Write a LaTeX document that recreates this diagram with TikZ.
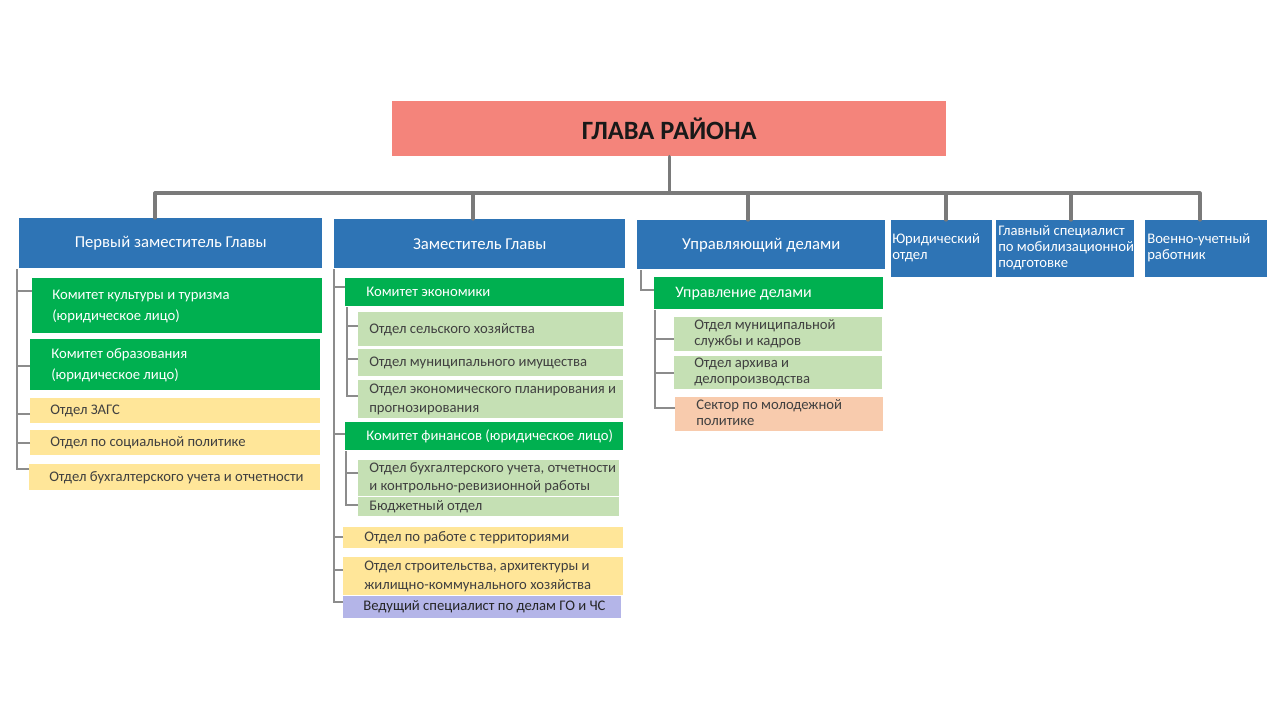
\documentclass[tikz,border=0pt]{standalone}
\usepackage{fontspec}
\setmainfont{Carlito}
\usetikzlibrary{calc}
\definecolor{salmon}{HTML}{F4847B}
\definecolor{hdrblue}{HTML}{2E74B5}
\definecolor{dgreen}{HTML}{00B050}
\definecolor{lgreen}{HTML}{C5E0B4}
\definecolor{lyellow}{HTML}{FFE699}
\definecolor{lpeach}{HTML}{F8CBAD}
\definecolor{lavender}{HTML}{B4B5E8}
\definecolor{txtgray}{HTML}{404040}
\definecolor{busgray}{HTML}{7A7A7A}
\definecolor{brgray}{HTML}{8C8C8C}
% left-aligned box: style, name, x1, y1, x2, y2, inset, text
\newcommand\Bx[8]{%
 \pgfmathsetmacro\bxw{(#5-#3)*0.75}%
 \pgfmathsetmacro\bxh{(#6-#4)*0.75}%
 \pgfmathsetmacro\bxi{#7*0.75}%
 \node[#1, anchor=north west, minimum width=\bxw pt, minimum height=\bxh pt,
   inner xsep=0pt, inner ysep=0pt] (#2) at (#3,#4)
   {\makebox[\bxw pt][l]{\hspace*{\bxi pt}\begin{tabular}{@{}l@{}}#8\end{tabular}}};}
% centred box: style, name, x1, y1, x2, y2, text
\newcommand\Bc[7]{%
 \pgfmathsetmacro\bxw{(#5-#3)*0.75}%
 \pgfmathsetmacro\bxh{(#6-#4)*0.75}%
 \node[#1, anchor=north west, minimum width=\bxw pt, minimum height=\bxh pt,
   inner xsep=0pt, inner ysep=0pt] (#2) at (#3,#4)
   {\makebox[\bxw pt][c]{#7}};}
\tikzset{
 titlebox/.style={fill=salmon, text=black!90, font=\fontsize{19.8}{22}\selectfont\bfseries},
 hdrbox/.style={fill=hdrblue, text=white, font=\fontsize{12.5}{14}\selectfont},
 smallhdr/.style={fill=hdrblue, text=white, font=\fontsize{11}{12}\selectfont},
 greenbox/.style={fill=dgreen, text=white, font=\fontsize{11}{15.75}\selectfont},
 lgbox/.style={fill=lgreen, text=txtgray, font=\fontsize{11}{14.25}\selectfont},
 ybox/.style={fill=lyellow, text=txtgray, font=\fontsize{11}{14.25}\selectfont},
 pbox/.style={fill=lpeach, text=txtgray, font=\fontsize{11}{12}\selectfont},
 vbox/.style={fill=lavender, text=black!85, font=\fontsize{11}{12}\selectfont},
 bus/.style={draw=busgray, line width=2.4pt, line cap=round, line join=round},
 br/.style={draw=brgray, line width=0.8pt},
}
\begin{document}
\begin{tikzpicture}[x=0.75pt,y=-0.75pt]
\useasboundingbox (0,0) rectangle (1280,720);
\fill[white] (0,0) rectangle (1280,720);

% title
\Bc{titlebox}{glava}{392}{101}{946}{156}{ГЛАВА РАЙОНА}

% department heads
\Bc{hdrbox}{d1}{19}{218}{322}{268}{Первый заместитель Главы}
\Bc{hdrbox}{d2}{334}{219}{625}{268}{Заместитель Главы}
\Bc{hdrbox}{d3}{637}{220}{885}{269}{Управляющий делами}
\Bx{smallhdr}{d4}{891}{220}{992}{277}{1}{Юридический\\отдел}
\Bx{smallhdr}{d5}{996}{220}{1134}{277}{2}{Главный специалист\\по мобилизационной\\подготовке}
\Bx{smallhdr}{d6}{1145}{220}{1267}{277}{2}{Военно-учетный\\работник}

% bus
\coordinate (b1) at (155,193);
\coordinate (b2) at (473,193);
\coordinate (b3) at (748,193);
\coordinate (b4) at (946,193);
\coordinate (b5) at (1071,193);
\coordinate (b6) at (1200,193);
\draw[bus] (glava.south) -- (glava.south |- b1);
\draw[bus] (b1 |- d1.north) -- (b1) -- (b6) -- (b6 |- d6.north);
\draw[bus] (b2) -- (b2 |- d2.north);
\draw[bus] (b3) -- (b3 |- d3.north);
\draw[bus] (b4) -- (b4 |- d4.north);
\draw[bus] (b5) -- (b5 |- d5.north);

% column 1
\Bx{greenbox}{k1}{32}{278}{322}{333}{20}{Комитет культуры и туризма\\(юридическое лицо)}
\Bx{greenbox}{k2}{30}{339}{320}{390}{21}{Комитет образования\\(юридическое лицо)}
\Bx{ybox}{zags}{30}{398}{320}{423}{20}{Отдел ЗАГС}
\Bx{ybox}{soc}{30}{430}{320}{455}{20}{Отдел по социальной политике}
\Bx{ybox}{buh1}{29}{464}{320}{490}{20}{Отдел бухгалтерского учета и отчетности}
\coordinate (s1) at ($(d1.south west)+(-2,0)$);
\draw[br] ($(buh1.north west)+(0,5)$) -| (s1);
\draw[br] ($(k1.north west)+(0,13)$) -| (s1);
\draw[br] ($(k2.north west)+(0,27)$) -| (s1);
\draw[br] ($(zags.north west)+(0,16)$) -| (s1);
\draw[br] ($(soc.north west)+(0,13)$) -| (s1);

% column 2
\Bx{greenbox}{ke}{345}{278}{624}{306}{21}{Комитет экономики}
\Bx{lgbox}{sx}{358}{312}{623}{346}{11}{Отдел сельского хозяйства}
\Bx{lgbox}{mi}{358}{349}{623}{376}{11}{Отдел муниципального имущества}
\Bx{lgbox}{ep}{358}{380}{623}{413}{11}{Отдел экономического планирования и\\прогнозирования}
\Bx{greenbox}{kf}{345}{422}{623}{450}{21}{Комитет финансов (юридическое лицо)}
\Bx{lgbox, font=\fontsize{11}{13.5}\selectfont}{bu2}{358}{460}{619}{492}{11}{Отдел бухгалтерского учета, отчетности\\и контрольно-ревизионной работы}
\Bx{lgbox}{bj}{358}{497}{619}{516}{11}{Бюджетный отдел}
\Bx{ybox}{terr}{343}{527}{623}{548}{21}{Отдел по работе с территориями}
\Bx{ybox}{stroi}{343}{557}{623}{590}{21}{Отдел строительства, архитектуры и\\жилищно-коммунального хозяйства}
\Bx{vbox}{ved}{343}{596}{621}{618}{20}{Ведущий специалист по делам ГО и ЧС}
\coordinate (s2) at (d2.south west);
\draw[br] ($(ved.north west)+(0,6)$) -| (s2);
\draw[br] ($(ke.north west)+(0,9)$) -| (s2);
\draw[br] ($(kf.north west)+(0,12)$) -| (s2);
\draw[br] ($(terr.north west)+(0,10)$) -| (s2);
\draw[br] ($(stroi.north west)+(0,13)$) -| (s2);
\coordinate (s2a) at ($(ke.south west)+(2,0)$);
\draw[br] ($(ep.north west)+(0,16)$) -| (s2a);
\draw[br] ($(sx.north west)+(0,14)$) -| (s2a);
\draw[br] ($(mi.north west)+(0,10)$) -| (s2a);
\coordinate (s2b) at ($(kf.south west)+(1,0)$);
\draw[br] ($(bj.north west)+(0,8)$) -| (s2b);
\draw[br] ($(bu2.north west)+(0,13)$) -| (s2b);

% column 3
\Bx{greenbox, font=\fontsize{12}{14}\selectfont}{ud}{654}{277}{883}{309}{21}{Управление делами}
\Bx{lgbox, font=\fontsize{11}{12}\selectfont}{ms}{674}{317}{882}{351}{20}{Отдел муниципальной\\службы и кадров}
\Bx{lgbox, font=\fontsize{11}{12}\selectfont}{ar}{674}{356}{882}{389}{20}{Отдел архива и\\делопроизводства}
\Bx{pbox}{sm}{675}{397}{883}{431}{21}{Сектор по молодежной\\политике}
\coordinate (s3) at ($(d3.south west)+(4,0)$);
\draw[br] ($(ud.north west)+(0,13)$) -| (s3);
\coordinate (s3a) at ($(ud.south west)+(1,0)$);
\draw[br] ($(sm.north west)+(0,11)$) -| (s3a);
\draw[br] ($(ms.north west)+(0,22)$) -| (s3a);
\draw[br] ($(ar.north west)+(0,17)$) -| (s3a);
\end{tikzpicture}
\end{document}
